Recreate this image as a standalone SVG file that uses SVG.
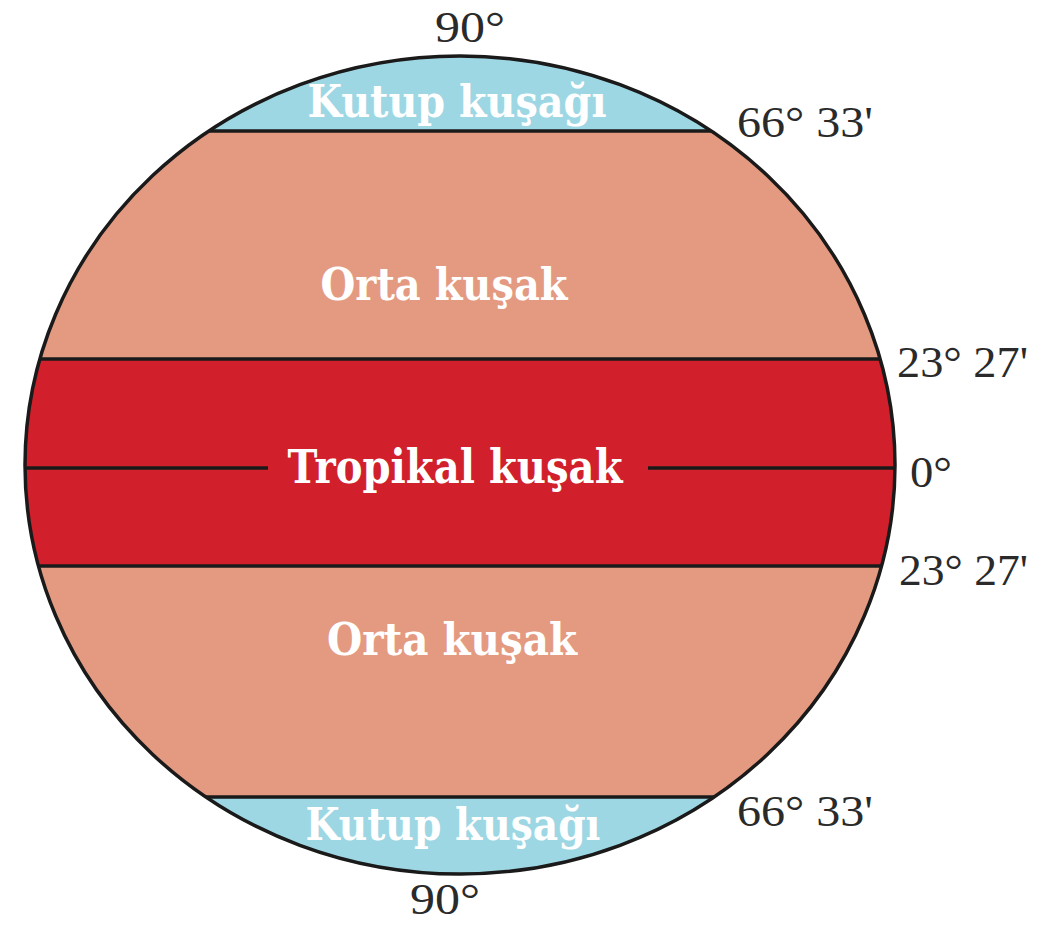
<svg xmlns="http://www.w3.org/2000/svg" width="1046" height="926" viewBox="0 0 1046 926">
<style>
.zone{font-family:"DejaVu Serif","Liberation Serif",serif;font-weight:bold;fill:#ffffff;text-anchor:middle}
.lat{font-family:"Liberation Serif","DejaVu Serif",serif;fill:#2a2a2a;font-size:45px}
.ln{stroke:#1a1a1a;stroke-width:3.5;fill:none}
</style>
<defs>
<clipPath id="globe"><ellipse cx="460" cy="465" rx="435" ry="409"/></clipPath>
</defs>
<rect width="1046" height="926" fill="#ffffff"/>
<g id="zones" clip-path="url(#globe)">
<rect id="polar-north" x="0" y="0" width="1046" height="131" fill="#9ED7E4"/>
<rect id="temperate-north" x="0" y="131" width="1046" height="228" fill="#E49A81"/>
<rect id="tropical" x="0" y="359" width="1046" height="207" fill="#D1202B"/>
<rect id="temperate-south" x="0" y="566" width="1046" height="231" fill="#E49A81"/>
<rect id="polar-south" x="0" y="797" width="1046" height="130" fill="#9ED7E4"/>
</g>
<g id="connectors" clip-path="url(#globe)">
<line class="ln" x1="0" y1="131" x2="1046" y2="131"/>
<line class="ln" x1="0" y1="359" x2="1046" y2="359"/>
<line class="ln" x1="0" y1="468" x2="268" y2="468"/>
<line class="ln" x1="648" y1="468" x2="1046" y2="468"/>
<line class="ln" x1="0" y1="566" x2="1046" y2="566"/>
<line class="ln" x1="0" y1="797" x2="1046" y2="797"/>
</g>
<ellipse id="outline" cx="460" cy="465" rx="435" ry="409" fill="none" stroke="#1a1a1a" stroke-width="3.5"/>
<g id="zone-labels">
<text class="zone" x="457" y="117" font-size="44" textLength="299" lengthAdjust="spacingAndGlyphs">Kutup kuşağı</text>
<text class="zone" x="444" y="300" font-size="44" textLength="247" lengthAdjust="spacingAndGlyphs">Orta kuşak</text>
<text class="zone" x="455" y="483" font-size="47" textLength="335" lengthAdjust="spacingAndGlyphs">Tropikal kuşak</text>
<text class="zone" x="452" y="655" font-size="44" textLength="250" lengthAdjust="spacingAndGlyphs">Orta kuşak</text>
<text class="zone" x="453" y="840" font-size="44" textLength="295" lengthAdjust="spacingAndGlyphs">Kutup kuşağı</text>
</g>
<g id="lat-labels">
<text class="lat" x="435" y="42" textLength="70" lengthAdjust="spacingAndGlyphs">90°</text>
<text class="lat" x="737" y="137" textLength="136" lengthAdjust="spacingAndGlyphs">66° 33'</text>
<text class="lat" x="897" y="377" textLength="131" lengthAdjust="spacingAndGlyphs">23° 27'</text>
<text class="lat" x="910" y="487" textLength="42" lengthAdjust="spacingAndGlyphs">0°</text>
<text class="lat" x="899" y="585" textLength="129" lengthAdjust="spacingAndGlyphs">23° 27'</text>
<text class="lat" x="737" y="826" textLength="136" lengthAdjust="spacingAndGlyphs">66° 33'</text>
<text class="lat" x="410" y="914" textLength="70" lengthAdjust="spacingAndGlyphs">90°</text>
</g>
</svg>
